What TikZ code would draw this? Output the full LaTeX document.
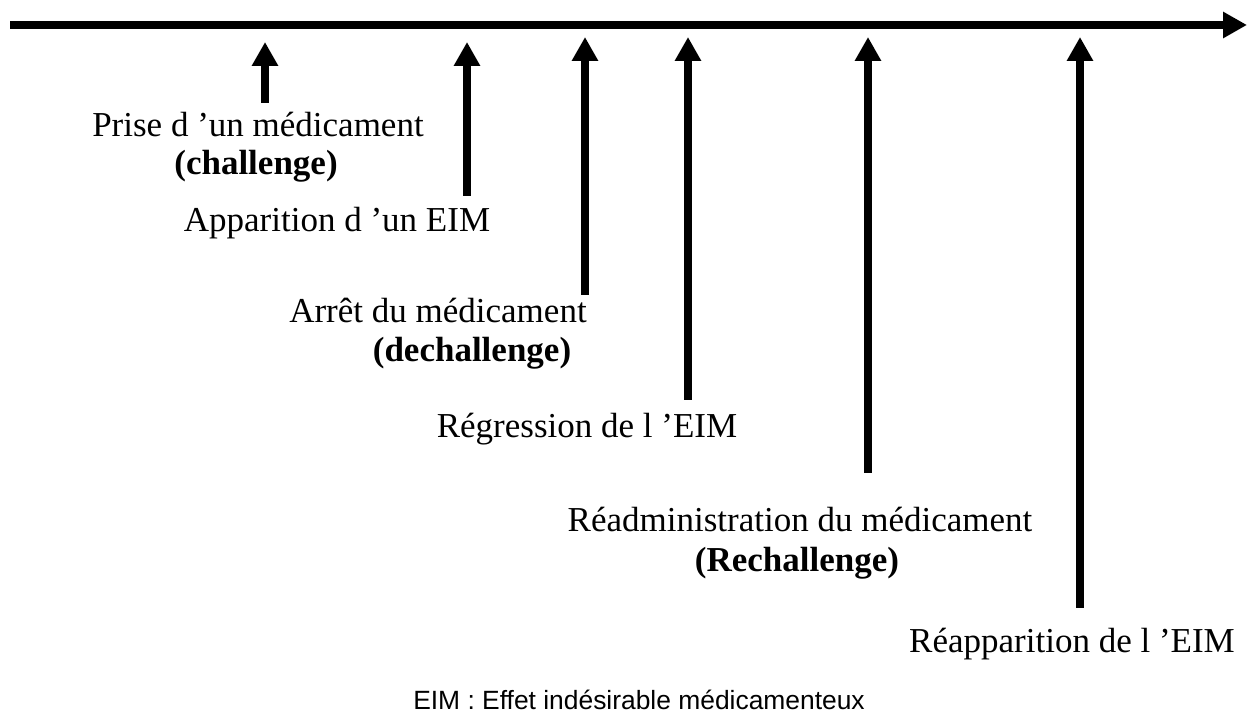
\documentclass[tikz,border=0pt]{standalone}
\usepackage{fontspec}
\setmainfont{Liberation Serif}
\newfontfamily\notefont{Liberation Sans}
\usetikzlibrary{arrows.meta}
\tikzset{
	txt/.style={inner sep=0pt,anchor=base,font=\fontsize{17.5}{21}\selectfont},
	btxt/.style={txt,font=\fontsize{17.5}{21}\selectfont\bfseries},
	note/.style={inner sep=0pt,anchor=base,font=\notefont\fontsize{13.2}{16}\selectfont},
	evt/.style={line width=4pt,-{Triangle[length=12pt,width=12.5pt]}}
}
\begin{document}
\begin{tikzpicture}[x=0.5pt,y=-0.5pt]
					\useasboundingbox (0,0) rectangle (1248,715);

					\coordinate (t0) at (10,25);
					\coordinate (t1) at (1247,25);
					\draw[evt] (t0) -- (t1);

					\coordinate (a1) at (265,103);
					\coordinate (b1) at (265,42);
					\coordinate (a2) at (467,196);
					\coordinate (b2) at (467,42);
					\coordinate (a3) at (585,295);
					\coordinate (b3) at (585,37);
					\coordinate (a4) at (688,400);
					\coordinate (b4) at (688,37);
					\coordinate (a5) at (868,473);
					\coordinate (b5) at (868,37);
					\coordinate (a6) at (1080,608);
					\coordinate (b6) at (1080,37);

					\draw[evt] (a1) -- (b1);
					\draw[evt] (a2) -- (b2);
					\draw[evt] (a3) -- (b3);
					\draw[evt] (a4) -- (b4);
					\draw[evt] (a5) -- (b5);
					\draw[evt] (a6) -- (b6);

					\node [txt] (prise) at (258,137) {Prise d ’un médicament};
					\node [btxt] (challenge) at (256,175) {(challenge)};
					\node [txt] (apparition) at (337,232) {Apparition d ’un EIM};
					\node [txt] (arret) at (438,323) {Arrêt du médicament};
					\node [btxt] (dechallenge) at (472,362) {(dechallenge)};
					\node [txt] (regression) at (587,438) {Régression de l ’EIM};
					\node [txt] (readmin) at (800,532) {Réadministration du médicament};
					\node [btxt] (rechallenge) at (797,572) {(Rechallenge)};
					\node [txt] (reapparition) at (1072,653) {Réapparition de l ’EIM};

					\node [note] (legende) at (639,710) {EIM : Effet indésirable médicamenteux};
				\end{tikzpicture}
\end{document}
